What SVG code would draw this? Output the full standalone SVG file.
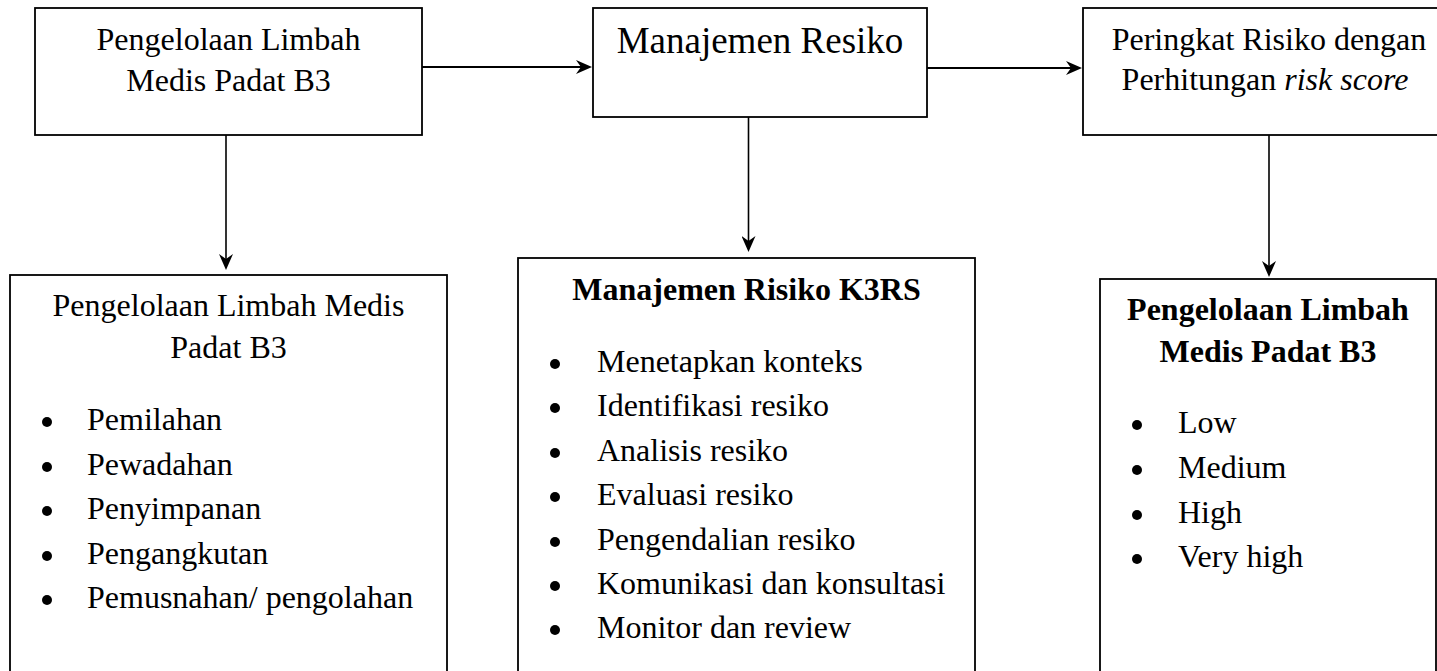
<svg xmlns="http://www.w3.org/2000/svg" width="1437" height="671" viewBox="0 0 1437 671">
<style>
.box{fill:#fff;stroke:#000;stroke-width:1.8}
.t{font-family:"Liberation Serif","Times New Roman",serif;font-size:32px;fill:#000}
.c{text-anchor:middle}
.b{font-weight:bold}
.big{font-size:37px}
.ln{stroke:#000;fill:none}
.h{stroke-width:2}
.v{stroke-width:1.6}
.dot{fill:#000}
</style>
<defs>
<marker id="arr" viewBox="0 0 16 14" markerWidth="16" markerHeight="14" refX="8" refY="7" orient="auto" markerUnits="userSpaceOnUse">
<path d="M0,0 L16,7 L0,14 L5,7 Z" fill="#000"/>
</marker>
</defs>
<rect width="1437" height="671" fill="#fff"/>
<g id="connectors">
<line class="ln h" x1="422" y1="67" x2="584" y2="67" marker-end="url(#arr)"/>
<line class="ln h" x1="927" y1="68" x2="1074" y2="68" marker-end="url(#arr)"/>
<line class="ln v" x1="226" y1="135" x2="226" y2="262" marker-end="url(#arr)"/>
<line class="ln v" x1="748.5" y1="117" x2="748.5" y2="244" marker-end="url(#arr)"/>
<line class="ln v" x1="1269" y1="135" x2="1269" y2="269" marker-end="url(#arr)"/>
</g>
<g id="top1">
<rect class="box" x="35" y="8" width="387" height="127"/>
<text class="t c" x="228.5" y="50">Pengelolaan Limbah</text>
<text class="t c" x="228.5" y="91">Medis Padat B3</text>
</g>
<g id="top2">
<rect class="box" x="593" y="8" width="334" height="109"/>
<text class="t c big" x="760" y="53">Manajemen Resiko</text>
</g>
<g id="top3">
<rect class="box" x="1083" y="8" width="370" height="127"/>
<text class="t c" x="1269" y="50">Peringkat Risiko dengan</text>
<text class="t c" x="1265" y="90">Perhitungan <tspan font-style="italic">risk score</tspan></text>
</g>
<g id="bottom1">
<rect class="box" x="10" y="275" width="437" height="420"/>
<text class="t c" x="228.5" y="316">Pengelolaan Limbah Medis</text>
<text class="t c" x="228.5" y="358">Padat B3</text>
<circle class="dot" cx="47" cy="422" r="5"/>
<circle class="dot" cx="47" cy="467" r="5"/>
<circle class="dot" cx="47" cy="511" r="5"/>
<circle class="dot" cx="47" cy="556" r="5"/>
<circle class="dot" cx="47" cy="600" r="5"/>
<text class="t" x="87" y="430">Pemilahan</text>
<text class="t" x="87" y="475">Pewadahan</text>
<text class="t" x="87" y="519">Penyimpanan</text>
<text class="t" x="87" y="564">Pengangkutan</text>
<text class="t" x="87" y="608">Pemusnahan/ pengolahan</text>
</g>
<g id="bottom2">
<rect class="box" x="518" y="258" width="457" height="440"/>
<text class="t c b" x="746.5" y="300">Manajemen Risiko K3RS</text>
<circle class="dot" cx="555" cy="364" r="5"/>
<circle class="dot" cx="555" cy="408" r="5"/>
<circle class="dot" cx="555" cy="453" r="5"/>
<circle class="dot" cx="555" cy="497" r="5"/>
<circle class="dot" cx="555" cy="542" r="5"/>
<circle class="dot" cx="555" cy="586" r="5"/>
<circle class="dot" cx="555" cy="630" r="5"/>
<text class="t" x="597" y="372">Menetapkan konteks</text>
<text class="t" x="597" y="416">Identifikasi resiko</text>
<text class="t" x="597" y="461">Analisis resiko</text>
<text class="t" x="597" y="505">Evaluasi resiko</text>
<text class="t" x="597" y="550">Pengendalian resiko</text>
<text class="t" x="597" y="594">Komunikasi dan konsultasi</text>
<text class="t" x="597" y="638">Monitor dan review</text>
</g>
<g id="bottom3">
<rect class="box" x="1100" y="279" width="336" height="420"/>
<text class="t c b" x="1268" y="320">Pengelolaan Limbah</text>
<text class="t c b" x="1268" y="362">Medis Padat B3</text>
<circle class="dot" cx="1137" cy="425" r="5"/>
<circle class="dot" cx="1137" cy="470" r="5"/>
<circle class="dot" cx="1137" cy="515" r="5"/>
<circle class="dot" cx="1137" cy="559" r="5"/>
<text class="t" x="1178" y="433">Low</text>
<text class="t" x="1178" y="478">Medium</text>
<text class="t" x="1178" y="523">High</text>
<text class="t" x="1178" y="567">Very high</text>
</g>
</svg>
